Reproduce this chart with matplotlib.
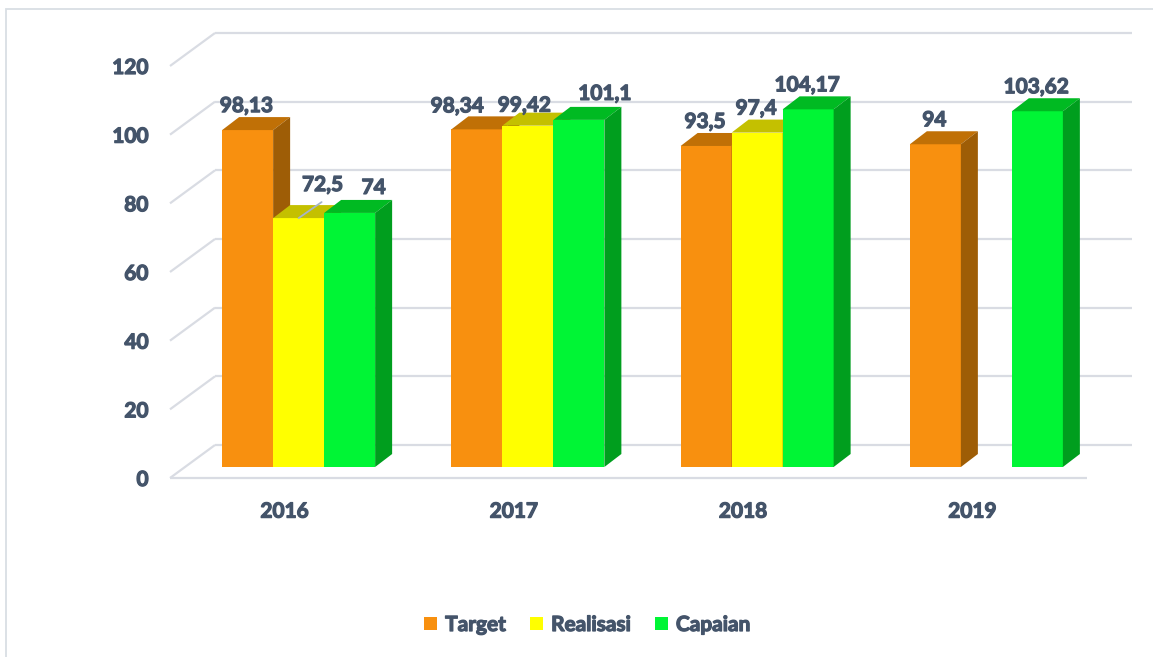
import matplotlib
matplotlib.use('Agg')
import matplotlib.pyplot as plt
import matplotlib.transforms as mtransforms
import matplotlib.patheffects as pe
from matplotlib.patches import Polygon, Rectangle, Patch
import numpy as np

# ---------------- data ----------------
years = ['2016', '2017', '2018', '2019']
series = ['Target', 'Realisasi', 'Capaian']
target = [98.13, 98.34, 93.5, 94]
realisasi = [72.5, 99.42, 97.4, np.nan]
capaian = [74, 101.1, 104.17, 103.62]
yticks = [0, 20, 40, 60, 80, 100, 120]

# ---------------- style ----------------
plt.rcParams['font.family'] = ['Lato', 'DejaVu Sans']
TXT = '#44546A'
GRID = '#D9DCE3'
FS = 15
BOLD = [pe.withStroke(linewidth=0.9, foreground=TXT)]
front_cols = ['#F8900F', '#FFFF00', '#00F535']
top_cols = ['#C07006', '#C4C000', '#00BA22']
side_cols = ['#9E5D06', '#A8A400', '#009E1E']

W, H = 1153, 657
fig = plt.figure(figsize=(W / 100, H / 100), dpi=100)
fig.patch.set_facecolor('white')

# front plane of the 3D box
ax_l, ax_r, ax_b, ax_t = 170, 1087, 478, 66  # pixel positions
ax = fig.add_axes([ax_l / W, (H - ax_b) / H, (ax_r - ax_l) / W, (ax_b - ax_t) / H])
ax.set_xlim(-0.5, 3.5)
ax.set_ylim(0, 120)
ax.set_autoscale_on(False)
for s in ax.spines.values():
    s.set_visible(False)
ax.patch.set_alpha(0)

sx = (ax_r - ax_l) / 4.0   # px per category
sy = (ax_b - ax_t) / 120.0  # px per value unit

# depth geometry (pixels)
wall_dx, wall_dy = 45, 33
bar_dx, bar_dy = 17, 13
bar_off_x, bar_off_y = 14, 11
bw = 51 / sx

bx, by = wall_dx / sx, wall_dy / sy
ddx, ddy = bar_dx / sx, bar_dy / sy

# walls / gridlines
for v in yticks:
    ax.plot([-0.5 + bx, 3.5 + bx], [v + by, v + by], color=GRID, lw=1.6, zorder=1,
            clip_on=False, solid_capstyle='butt')
    ax.plot([-0.5, -0.5 + bx], [v, v + by], color=GRID, lw=1.6, zorder=1,
            clip_on=False, solid_capstyle='butt')
ax.plot([-0.5, 3.5], [0, 0], color=GRID, lw=1.6, zorder=1, clip_on=False,
        solid_capstyle='butt')

T_bar = ax.transData + mtransforms.ScaledTranslation(bar_off_x / 100, bar_off_y / 100,
                                                      fig.dpi_scale_trans)

data = [target, realisasi, capaian]
x = np.arange(len(years))

label_offsets = {
    (0, 1): (24, 27), (0, 2): (24, 19),
    (1, 0): (-19.5, 17), (1, 1): (-3.5, 14), (1, 2): (26, 20),
}

def fmt(v):
    return ('%g' % v).replace('.', ',')

handles = []
for k, vals in enumerate(data):
    xs = x + (k - 1) * bw
    bars = ax.bar(xs, vals, width=bw, color=front_cols[k], transform=T_bar,
                  label=series[k], clip_on=False, linewidth=0)
    handles.append(Patch(facecolor=front_cols[k], label=series[k]))
    for i, (b, v) in enumerate(zip(bars, vals)):
        z = 3 + 0.1 * (i * 3 + k)
        b.set_zorder(z)
        if np.isnan(v):
            continue
        x0 = xs[i] - bw / 2
        x1 = xs[i] + bw / 2
        top = Polygon([(x0, v), (x1, v), (x1 + ddx, v + ddy), (x0 + ddx, v + ddy)],
                      closed=True, facecolor=top_cols[k], edgecolor='none',
                      transform=T_bar, zorder=z, clip_on=False)
        side = Polygon([(x1, 0), (x1, v), (x1 + ddx, v + ddy), (x1 + ddx, ddy)],
                       closed=True, facecolor=side_cols[k], edgecolor='none',
                       transform=T_bar, zorder=z, clip_on=False)
        ax.add_patch(top)
        ax.add_patch(side)
        off = label_offsets.get((i, k), (-1, 18))
        ax.annotate(fmt(v), xy=(xs[i], v), xycoords=T_bar, xytext=off,
                    textcoords='offset pixels', ha='center', va='baseline',
                    fontsize=FS, fontweight='bold', color=TXT, zorder=10,
                    annotation_clip=False, path_effects=BOLD)

# leader line for the displaced 2016 Realisasi label
ax.annotate('', xy=(x[0], realisasi[0]), xycoords=T_bar, xytext=(23, 16),
            textcoords='offset pixels',
            arrowprops=dict(arrowstyle='-', color='#A5B4CB', lw=1.3,
                            shrinkA=0, shrinkB=0), zorder=10, annotation_clip=False)

# axes ticks and labels
ax.set_yticks(yticks)
ax.set_yticklabels([str(t) for t in yticks])
ax.set_xticks(x)
ax.set_xticklabels(years)
ax.tick_params(axis='y', length=0, pad=15.5, labelsize=FS, labelcolor=TXT)
ax.tick_params(axis='x', length=0, pad=17, labelsize=FS, labelcolor=TXT)
for lbl in ax.get_xticklabels() + ax.get_yticklabels():
    lbl.set_fontweight('bold')
    lbl.set_path_effects(BOLD)

# legend
leg = fig.legend(handles=handles, loc='center', bbox_to_anchor=(587 / W, 1 - 625 / H),
                 ncol=3, frameon=False, handlelength=0.62, handleheight=0.62,
                 handletextpad=0.4, columnspacing=1.15,
                 prop={'size': FS, 'weight': 'bold'}, labelcolor=TXT)
for t in leg.get_texts():
    t.set_path_effects(BOLD)

# outer border
fig.patches.append(Rectangle((6 / W, -0.1), 1.2, (1 - 9 / H) + 0.1,
                             transform=fig.transFigure, fill=False,
                             edgecolor='#D9DEE4', lw=1.3))

fig.savefig('out.png', dpi=100, facecolor='white')
